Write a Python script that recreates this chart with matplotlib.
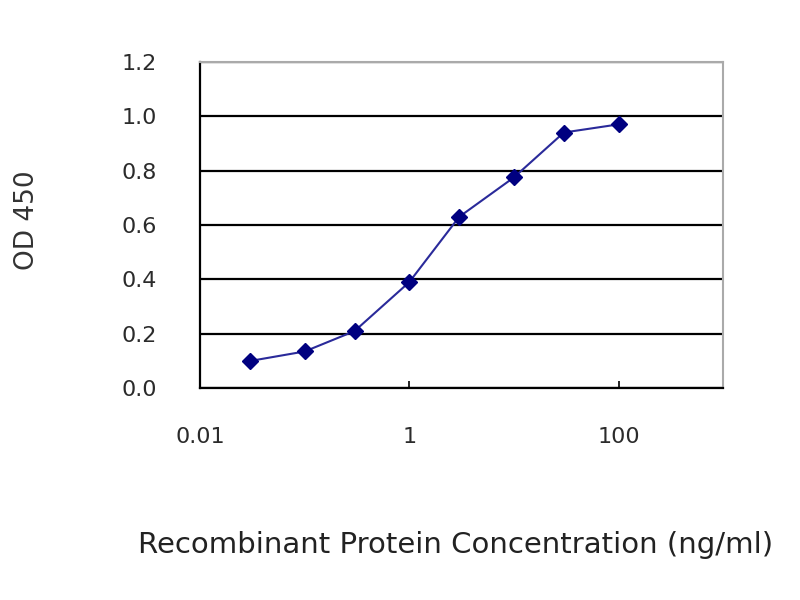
import numpy as np
import matplotlib.pyplot as plt

plt.rcParams['font.family'] = ['DejaVu Sans']

# Concentration (ng/ml) and OD 450 readings
conc = [0.03, 0.1, 0.3, 1, 3, 10, 30, 100]
od450 = [0.10, 0.135, 0.21, 0.39, 0.63, 0.775, 0.94, 0.97]

x_ticks = [0.01, 1, 100]
x_tick_labels = ['0.01', '1', '100']
y_ticks = [0.0, 0.2, 0.4, 0.6, 0.8, 1.0, 1.2]

fig = plt.figure(figsize=(8, 6), dpi=100)
ax = fig.add_axes([0.25, 0.353, 0.654, 0.544])

ax.plot(conc, od450, color='#2a2a9a', lw=1.5, marker='D', ms=8.5,
        mfc='#000080', mec='#000080', zorder=3)

ax.set_xscale('log')
ax.set_xlim(0.01, 1000)
ax.set_ylim(0, 1.2)
ax.set_xticks(x_ticks)
ax.set_xticklabels(x_tick_labels)
ax.minorticks_off()
ax.set_yticks(y_ticks)
ax.set_yticklabels([f'{v:.1f}' for v in y_ticks])

# horizontal gridlines
ax.yaxis.grid(True, color='black', lw=1.6)
ax.set_axisbelow(True)

for side in ['top', 'right']:
    ax.spines[side].set_color('#aaaaaa')
    ax.spines[side].set_linewidth(1.5)
for side in ['left', 'bottom']:
    ax.spines[side].set_color('black')
    ax.spines[side].set_linewidth(1.6)

ax.tick_params(axis='both', direction='in', length=5, width=1.2,
               labelsize=16, labelcolor='#2b2b2b')
ax.tick_params(axis='x', pad=28)
ax.tick_params(axis='y', pad=31)

ax.set_ylabel('OD 450', fontsize=19, color='#333333')
ax.yaxis.set_label_coords(-0.305, 0.515)
fig.text(0.57, 0.092, 'Recombinant Protein Concentration (ng/ml)',
         fontsize=21, color='#222222', ha='center', va='center')

fig.savefig('out.png', dpi=100)
